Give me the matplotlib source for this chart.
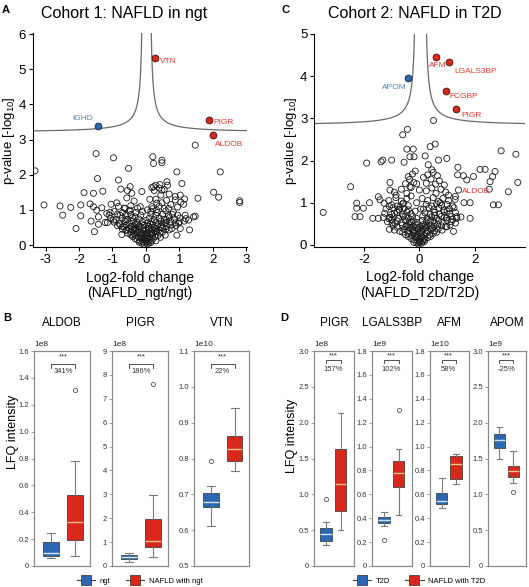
import numpy as np
import matplotlib.pyplot as plt
from matplotlib.lines import Line2D

plt.rcParams['font.family'] = ['Liberation Sans', 'DejaVu Sans']
plt.rcParams['mathtext.default'] = 'regular'

W, H = 529, 587
BLUE, RED = '#2a68b2', '#d8281c'
LBL_RED, LBL_BLUE = '#e23a30', '#4f82c4'

# ---------------- data: volcano cohort 1 (log2 fold change, -log10 p) ----------------
pts_a_outer = [
    (-3.32, 2.11), (-3.05, 1.14), (-2.57, 1.11), (-2.49, 0.85), (-2.25, 1.07), (-2.09, 0.47),
    (-1.95, 1.14), (-1.95, 0.83), (-1.85, 1.49), (-1.67, 1.17), (-1.64, 0.68), (-1.57, 1.47),
    (-1.54, 0.38), (-1.49, 2.60), (-1.45, 1.89), (-1.57, 1.09), (-1.47, 0.99), (-1.42, 0.80),
    (-1.29, 1.53), (-1.32, 1.06), (-1.17, 0.90), (-1.22, 0.64), (-1.04, 1.16), (-1.07, 0.93),
    (-0.97, 2.48), (-0.87, 1.20), (-0.82, 1.85), (-0.77, 0.85), (-0.75, 1.59), (-0.65, 0.52),
    (-0.52, 2.18), (-0.57, 1.34), (-0.47, 1.66), (-0.42, 1.47), (-0.12, 1.52), (-1.42, 0.59),
    (-1.15, 0.64), (-0.97, 0.71), (-0.62, 1.04), (-0.47, 0.99), (-0.77, 0.57), (-0.72, 0.30),
    (0.21, 2.51), (0.23, 2.32), (0.48, 2.41), (0.48, 2.34), (0.23, 1.66), (0.30, 1.70),
    (0.42, 1.72), (0.63, 1.80), (0.93, 2.08), (1.08, 1.75), (1.03, 1.42), (0.88, 1.28),
    (1.16, 1.31), (1.13, 1.16), (1.18, 0.85), (1.28, 0.71), (1.43, 0.80), (1.48, 0.82),
    (1.31, 0.43), (1.56, 1.33), (1.48, 2.84), (2.03, 1.50), (2.18, 1.36), (2.23, 2.08),
    (2.81, 1.26), (2.81, 1.21), (1.03, 0.47), (0.98, 0.62), (0.78, 0.47), (0.93, 0.28),
    (0.58, 0.28), (0.68, 1.04), (0.33, 1.19), (0.18, 1.09), (-0.17, 1.09), (0.48, 1.56),
    (0.18, 1.63),
]
pts_a_core = [
    (-0.12, 0.05), (-0.05, 0.02), (0.00, 0.08), (0.04, 0.03), (0.09, 0.06), (-0.08, 0.09),
    (0.02, 0.12), (0.06, 0.10), (-0.25, 0.15), (-0.18, 0.12), (-0.10, 0.18), (-0.03, 0.14),
    (0.03, 0.19), (0.10, 0.16), (0.16, 0.13), (0.22, 0.18), (-0.14, 0.20), (0.07, 0.20),
    (-0.40, 0.24), (-0.30, 0.27), (-0.22, 0.22), (-0.12, 0.28), (-0.05, 0.25), (0.05, 0.27),
    (0.12, 0.23), (0.20, 0.28), (0.28, 0.24), (0.36, 0.27), (-0.17, 0.30), (0.00, 0.30),
    (0.15, 0.30), (-0.55, 0.34), (-0.45, 0.38), (-0.35, 0.33), (-0.25, 0.37), (-0.15, 0.35),
    (-0.06, 0.39), (0.04, 0.34), (0.13, 0.38), (0.22, 0.35), (0.32, 0.38), (0.42, 0.34),
    (0.50, 0.37), (-0.30, 0.40), (0.27, 0.41), (-0.70, 0.45), (-0.60, 0.42), (-0.50, 0.47),
    (-0.40, 0.44), (-0.30, 0.48), (-0.20, 0.44), (-0.10, 0.47), (0.00, 0.43), (0.10, 0.48),
    (0.20, 0.45), (0.30, 0.47), (0.40, 0.44), (0.50, 0.48), (0.60, 0.45), (0.70, 0.43),
    (-0.85, 0.55), (-0.70, 0.52), (-0.58, 0.57), (-0.45, 0.53), (-0.33, 0.58), (-0.20, 0.54),
    (-0.05, 0.57), (0.08, 0.53), (0.20, 0.58), (0.35, 0.54), (0.48, 0.57), (0.62, 0.53),
    (0.75, 0.57), (0.90, 0.55), (-0.95, 0.65), (-0.80, 0.62), (-0.62, 0.67), (-0.50, 0.63),
    (-0.38, 0.68), (-0.25, 0.64), (-0.10, 0.66), (0.05, 0.63), (0.18, 0.67), (0.30, 0.64),
    (0.45, 0.68), (0.60, 0.64), (0.75, 0.67), (0.88, 0.63), (1.00, 0.66), (1.15, 0.68),
    (-1.05, 0.75), (-0.90, 0.72), (-0.70, 0.77), (-0.55, 0.73), (-0.40, 0.78), (-0.20, 0.74),
    (0.10, 0.76), (0.25, 0.72), (0.40, 0.77), (0.55, 0.73), (0.70, 0.78), (0.85, 0.74),
    (1.02, 0.77), (1.20, 0.75), (-1.10, 0.85), (-0.85, 0.88), (-0.60, 0.84), (-0.45, 0.87),
    (0.30, 0.85), (0.50, 0.88), (0.68, 0.84), (0.80, 0.87), (0.95, 0.85), (-0.95, 0.95),
    (-0.70, 0.92), (-0.50, 0.97), (-0.30, 0.93), (0.15, 0.96), (0.35, 0.92), (0.60, 0.97),
    (0.82, 0.94), (-0.65, 1.05), (-0.45, 1.12), (0.20, 1.03), (0.40, 1.10), (0.55, 1.04),
    (0.75, 1.15), (0.95, 1.08), (-0.82, 1.10), (-0.35, 1.25), (0.30, 1.30), (0.45, 1.42),
    (0.62, 1.27), (0.88, 1.38), (1.05, 1.22), (0.70, 1.45), (0.25, 1.55), (0.40, 1.62),
    (0.55, 1.58), (0.65, 1.70), (-0.55, 1.55), (-0.32, 0.80), (-0.37, 0.28), (-0.22, 0.52),
    (-0.57, 0.43), (0.28, 0.38), (-0.20, 0.08), (0.15, 0.07), (-0.32, 0.18), (0.30, 0.12),
    (-0.45, 0.29), (0.44, 0.22), (-0.08, 0.33), (0.08, 0.42), (-0.15, 0.52), (0.13, 0.60),
    (-0.28, 0.60), (0.25, 0.50), (-0.42, 0.52), (0.38, 0.60), (0.55, 0.62), (-0.60, 0.72),
    (0.00, 0.70), (-0.02, 0.20), (0.18, 0.33), (-0.35, 0.47), (0.45, 0.52), (0.62, 0.72),
    (-0.15, 0.85), (0.15, 0.88), (0.05, 1.00), (-0.10, 0.95), (0.32, 1.00), (0.48, 1.20),
    (-0.25, 1.05), (0.12, 1.30),
]
hits_a = ['VTN', 'IGHD', 'PIGR', 'ALDOB']
hits_a_fc = [0.28, -1.44, 1.88, 2.01]
hits_a_p = [5.33, 3.38, 3.55, 3.13]
hits_a_up = [True, False, True, True]

# ---------------- data: volcano cohort 2 ----------------
pts_c_outer = [
    (-0.43, 2.74), (-0.60, 2.61), (-0.45, 2.27), (-0.22, 2.27), (-0.34, 2.09), (-0.19, 2.09),
    (-0.55, 1.96), (-1.32, 2.01), (-1.00, 2.01), (-1.38, 1.97), (-1.90, 1.94), (-2.48, 1.38),
    (-3.47, 0.77), (-2.26, 0.99), (-2.26, 0.87), (-2.02, 0.87), (-2.32, 0.67), (-2.14, 0.67),
    (-1.80, 1.00), (-1.68, 0.63), (-1.48, 1.14), (-1.42, 1.07), (-1.06, 1.48), (-1.06, 1.30),
    (-0.84, 1.18), (-1.27, 0.99), (-1.08, 0.91), (-1.48, 0.63), (-1.06, 0.65), (-0.88, 0.51),
    (-1.08, 0.37), (-0.40, 1.62), (-0.34, 1.38), (-0.72, 0.83), (-0.58, 0.99),
    (0.51, 2.95), (0.57, 2.39), (0.39, 2.33), (0.21, 2.11), (0.99, 2.05), (0.69, 2.01),
    (0.32, 1.90), (0.45, 1.78), (1.39, 1.84), (1.59, 1.64), (1.71, 1.54), (1.95, 1.62),
    (2.19, 1.79), (2.37, 1.79), (2.55, 1.50), (2.64, 1.62), (2.73, 1.74), (2.95, 2.23),
    (3.48, 2.15), (3.55, 1.48), (3.21, 1.26), (2.67, 0.95), (2.85, 0.95), (2.52, 1.32),
    (1.61, 1.00), (1.83, 1.00), (1.29, 1.08), (1.05, 1.18), (1.41, 1.30), (1.83, 0.63),
    (1.35, 0.67), (1.23, 0.32), (0.99, 0.43), (1.38, 1.66),
]
pts_c_core = [
    (-0.10, 0.05), (-0.03, 0.02), (0.03, 0.08), (0.08, 0.04), (0.12, 0.09), (-0.06, 0.10),
    (0.00, 0.06), (-0.30, 0.15), (-0.20, 0.12), (-0.10, 0.18), (0.00, 0.14), (0.10, 0.19),
    (0.20, 0.13), (0.30, 0.17), (-0.15, 0.20), (0.05, 0.20), (0.16, 0.16), (-0.50, 0.24),
    (-0.38, 0.27), (-0.26, 0.22), (-0.15, 0.28), (-0.05, 0.25), (0.05, 0.27), (0.15, 0.23),
    (0.25, 0.28), (0.37, 0.24), (0.50, 0.27), (-0.20, 0.30), (0.10, 0.30), (-0.90, 0.35),
    (-0.70, 0.32), (-0.55, 0.37), (-0.42, 0.33), (-0.30, 0.38), (-0.18, 0.34), (-0.06, 0.37),
    (0.06, 0.33), (0.18, 0.38), (0.30, 0.34), (0.42, 0.37), (0.55, 0.33), (0.68, 0.38),
    (0.82, 0.35), (-0.35, 0.40), (0.24, 0.41), (-0.95, 0.45), (-0.80, 0.42), (-0.62, 0.47),
    (-0.48, 0.44), (-0.35, 0.48), (-0.22, 0.44), (-0.10, 0.47), (0.02, 0.43), (0.14, 0.48),
    (0.27, 0.45), (0.40, 0.47), (0.53, 0.44), (0.66, 0.48), (0.80, 0.45), (0.95, 0.43),
    (1.10, 0.47), (-1.15, 0.55), (-0.98, 0.52), (-0.80, 0.57), (-0.65, 0.53), (-0.50, 0.58),
    (-0.36, 0.54), (-0.22, 0.57), (-0.08, 0.53), (0.10, 0.58), (0.25, 0.54), (0.40, 0.57),
    (0.55, 0.53), (0.70, 0.57), (0.85, 0.54), (1.00, 0.58), (1.15, 0.55), (1.30, 0.52),
    (-1.30, 0.65), (-1.10, 0.62), (-0.92, 0.67), (-0.75, 0.63), (-0.58, 0.68), (-0.40, 0.64),
    (-0.25, 0.67), (-0.10, 0.63), (0.12, 0.68), (0.28, 0.64), (0.45, 0.67), (0.62, 0.63),
    (0.80, 0.68), (0.98, 0.64), (1.15, 0.67), (1.35, 0.63), (1.50, 0.66), (-1.25, 0.75),
    (-1.00, 0.72), (-0.80, 0.77), (-0.62, 0.73), (-0.45, 0.78), (-0.30, 0.74), (0.20, 0.76),
    (0.38, 0.72), (0.55, 0.77), (0.72, 0.73), (0.90, 0.78), (1.10, 0.74), (1.30, 0.77),
    (-1.20, 0.85), (-0.95, 0.88), (-0.75, 0.84), (-0.55, 0.87), (-0.40, 0.83), (0.15, 0.85),
    (0.35, 0.88), (0.52, 0.84), (0.70, 0.87), (0.88, 0.83), (1.08, 0.86), (1.25, 0.88),
    (-1.00, 0.95), (-0.80, 0.92), (-0.60, 0.97), (-0.40, 0.93), (0.25, 0.96), (0.45, 0.92),
    (0.62, 0.97), (0.80, 0.94), (1.00, 0.96), (1.20, 0.92), (-1.10, 1.05), (-0.85, 1.12),
    (-0.65, 1.04), (-0.45, 1.10), (-0.30, 1.16), (0.30, 1.05), (0.50, 1.12), (0.68, 1.03),
    (0.85, 1.10), (1.05, 1.05), (1.30, 1.15), (-0.90, 1.25), (-0.65, 1.32), (-0.45, 1.22),
    (-0.30, 1.36), (0.25, 1.28), (0.45, 1.35), (0.60, 1.22), (0.78, 1.32), (0.95, 1.25),
    (-0.50, 1.45), (-0.35, 1.55), (-0.20, 1.48), (0.25, 1.46), (0.42, 1.56), (0.58, 1.44),
    (0.72, 1.52), (0.90, 1.42), (-0.25, 1.68), (-0.15, 1.75), (0.30, 1.66), (0.50, 1.72),
    (0.65, 1.64), (-0.20, 0.06), (0.18, 0.08), (-0.40, 0.20), (0.40, 0.20), (-0.60, 0.30),
    (0.62, 0.30), (-0.08, 0.42), (0.10, 0.38), (-0.30, 0.55), (0.32, 0.60), (-0.50, 0.68),
    (0.55, 0.70), (-0.15, 0.80), (0.05, 0.85), (-0.10, 1.00), (0.10, 1.10), (-0.70, 0.90),
    (0.75, 1.00), (1.00, 0.80), (-0.90, 0.75), (0.20, 0.45), (-0.25, 0.35), (0.45, 0.40),
    (-0.45, 0.47), (0.90, 0.65), (1.20, 0.60), (-1.00, 0.60), (0.00, 1.30), (0.15, 1.60),
    (-0.10, 1.45),
]
hits_c = ['APOM', 'AFM', 'LGALS3BP', 'FCGBP', 'PIGR']
hits_c_fc = [-0.40, 0.59, 1.08, 0.96, 1.31]
hits_c_p = [3.95, 4.46, 4.34, 3.65, 3.21]
hits_c_up = [False, True, True, True, True]

# ---------------- data: box plots (in units of the axis multiplier) ----------------
# each entry: (whislo, q1, med, q3, whishi, fliers)
box_b_names = ['ALDOB', 'PIGR', 'VTN']
box_b_scale = ['1e8', '1e8', '1e10']
box_b_ctrl = [(0.062, 0.075, 0.10, 0.175, 0.245, []),
              (0.18, 0.30, 0.38, 0.46, 0.53, []),
              (0.612, 0.666, 0.679, 0.704, 0.723, [0.792])]
box_b_case = [(0.075, 0.195, 0.325, 0.525, 0.78, [1.31]),
              (0.39, 0.78, 1.04, 1.98, 2.96, [7.6]),
              (0.766, 0.792, 0.826, 0.863, 0.941, [])]
box_b_pct = ['341%', '186%', '22%']
box_b_ylim = [(0, 1.6), (0, 9), (0.5, 1.1)]
box_b_step = [0.2, 1, 0.1]

box_d_names = ['PIGR', 'LGALS3BP', 'AFM', 'APOM']
box_d_scale = ['1e8', '1e9', '1e10', '1e9']
box_d_ctrl = [(0.29, 0.345, 0.44, 0.525, 0.62, [0.94]),
              (0.335, 0.36, 0.385, 0.41, 0.455, [0.22]),
              (0.486, 0.52, 0.541, 0.608, 0.737, []),
              (1.49, 1.646, 1.76, 1.84, 1.94, [])]
box_d_case = [(0.50, 0.77, 1.15, 1.63, 2.13, []),
              (0.43, 0.665, 0.78, 0.875, 0.98, [1.31]),
              (0.69, 0.725, 0.857, 0.921, 0.94, []),
              (1.16, 1.247, 1.32, 1.39, 1.61, [1.03])]
box_d_pct = ['157%', '102%', '58%', '-25%']
box_d_ylim = [(0, 3.0), (0, 1.8), (0, 1.8), (0, 3.0)]
box_d_step = [0.5, 0.2, 0.2, 0.5]

fig = plt.figure(figsize=(W / 100, H / 100), dpi=100)


def add_ax(l, t, r, b):
    return fig.add_axes([l / W, 1 - b / H, (r - l) / W, (b - t) / H])


def put(x, y, s, **kw):
    fig.text(x / W, 1 - y / H, s, **kw)


def volcano(ax, pts, names, fc, p, up, curve, xlim, ylim, xticks, yticks, xlab, offsets, ylab_x):
    x, y = np.array(pts).T
    ax.scatter(x, y, s=19, facecolor='none', edgecolor='#1a1a1a', linewidth=0.6, zorder=2)
    center, x0, c, y0 = curve
    for side, edge in ((-1, xlim[0]), (1, xlim[1])):
        d = np.geomspace(c / (ylim[1] - y0 + 1), abs(edge - center) - x0, 400)
        ax.plot(center + side * (x0 + d), y0 + c / d, color='#6a6a6a', lw=0.9, zorder=1)
    for n, xi, yi, u in zip(names, fc, p, up):
        col = RED if u else BLUE
        ax.scatter([xi], [yi], s=24, color=col, edgecolor='#3a0d0a' if u else '#10264a',
                   linewidth=0.6, zorder=3)
        dx, dy, ha = offsets[n]
        ax.text(xi + dx, yi + dy, n, color=LBL_RED if u else LBL_BLUE, fontsize=6,
                ha=ha, va='center')
    ax.set_xlim(*xlim)
    ax.set_ylim(*ylim)
    ax.set_xticks(xticks)
    ax.set_yticks(yticks)
    ax.set_xticklabels([str(t) for t in xticks])
    for s in ('top', 'right'):
        ax.spines[s].set_visible(False)
    for s in ('left', 'bottom'):
        ax.spines[s].set_linewidth(0.8)
    ax.tick_params(labelsize=9.5, length=3, width=0.8, pad=2)
    ax.set_ylabel('p-value [-log$_{10}$]', fontsize=9.5)
    ax.yaxis.set_label_coords(ylab_x, 0.5)
    ax.set_xlabel(xlab, fontsize=10, labelpad=3, linespacing=1.15)


axA = add_ax(33, 33.3, 247, 247.5)
volcano(axA, pts_a_outer + pts_a_core, hits_a, hits_a_fc, hits_a_p, hits_a_up,
        (0.02, 0.09, 0.15, 3.2), (-3.38, 3.03), (-0.07, 6.02),
        [-3, -2, -1, 0, 1, 2, 3], range(0, 7),
        'Log2-fold change\n(NAFLD_ngt/ngt)',
        {'VTN': (0.15, -0.12, 'left'), 'IGHD': (-0.15, 0.22, 'right'),
         'PIGR': (0.15, -0.07, 'left'), 'ALDOB': (0.07, -0.26, 'left')}, -0.075)

axC = add_ax(314.3, 34, 525, 247)
volcano(axC, pts_c_outer + pts_c_core, hits_c, hits_c_fc, hits_c_p, hits_c_up,
        (0.04, 0.14, 0.17, 2.83), (-3.79, 3.81), (-0.05, 5.0),
        [-2, 0, 2], range(0, 6),
        'Log2-fold change\n(NAFLD_T2D/T2D)',
        {'APOM': (-0.06, -0.21, 'right'), 'AFM': (0.06, -0.21, 'center'),
         'LGALS3BP': (0.2, -0.22, 'left'), 'FCGBP': (0.14, -0.13, 'left'),
         'PIGR': (0.19, -0.15, 'left')}, -0.073)
axC.text(1.55, 1.26, 'ALDOB', color=LBL_RED, fontsize=6, ha='left', va='center')


def boxpanel(ax, name, scale, ctrl, case, pct, ylim, step, xlim, width, brk):
    stats = []
    for lab, (lo, q1, med, q3, hi, fl) in (('c', ctrl), ('n', case)):
        stats.append(dict(label=lab, whislo=lo, q1=q1, med=med, q3=q3, whishi=hi, fliers=fl))
    bp = ax.bxp(stats, positions=[1, 2], widths=width, patch_artist=True, showfliers=True,
                boxprops=dict(edgecolor='#2a2a2a', linewidth=0.5),
                whiskerprops=dict(color='#7a7a7a', linewidth=0.8),
                capprops=dict(color='#7a7a7a', linewidth=0.8),
                medianprops=dict(linewidth=1.0),
                flierprops=dict(marker='o', markersize=3, markerfacecolor='white',
                                markeredgecolor='#555555', markeredgewidth=0.6))
    for box, med, col, mcol in zip(bp['boxes'], bp['medians'], (BLUE, RED),
                                   ('#d6e2f2', '#f9c189')):
        box.set_facecolor(col)
        med.set_color(mcol)
    for cap in bp['caps']:
        mid = np.mean(cap.get_xdata())
        cap.set_xdata([mid - width * 0.25, mid + width * 0.25])
    ax.set_xlim(*xlim)
    ax.set_ylim(*ylim)
    ticks = np.arange(ylim[0], ylim[1] + step / 2, step)
    ax.set_yticks(ticks)
    if step >= 1:
        ax.set_yticklabels(['%d' % t for t in ticks])
    else:
        ax.set_yticklabels(['0' if abs(t) < 1e-9 else '%.1f' % t for t in ticks])
    ax.set_xticks([])
    for s in ax.spines.values():
        s.set_color('#8a8a8a')
        s.set_linewidth(0.9)
    ax.tick_params(axis='y', labelsize=5.5, length=2, width=0.5, color='#777777',
                   labelcolor='#333333', pad=1.5)
    ax.text(0, 1.012, scale, transform=ax.transAxes, fontsize=6, ha='left', va='bottom',
            color='#222222')
    ax.text(0.5, 1.13, name, transform=ax.transAxes, fontsize=8.5, ha='center', va='center')
    span = ylim[1] - ylim[0]
    yb, ytick, ystar, ypct = (ylim[0] + f * span for f in brk)
    ax.plot([1, 1, 2, 2], [ytick, yb, yb, ytick], color='#333333', lw=0.6)
    ax.text(1.5, ystar, '***', ha='center', va='center', fontsize=5.5, color='#333333')
    ax.text(1.5, ypct, pct, ha='center', va='center', fontsize=5.5, color='#333333')


b_cols = [(34, 90), (112, 168), (194, 249)]
for (l, r), n, sc, c0, c1, pc, yl, st in zip(b_cols, box_b_names, box_b_scale, box_b_ctrl,
                                              box_b_case, box_b_pct, box_b_ylim, box_b_step):
    ax = add_ax(l, 351, r, 566)
    boxpanel(ax, n, sc, c0, c1, pc, yl, st, (0.3, 2.6), 0.65, (0.94, 0.923, 0.972, 0.905))

d_cols = [(314, 354), (372, 412), (430, 469), (488, 526)]
for (l, r), n, sc, c0, c1, pc, yl, st in zip(d_cols, box_d_names, box_d_scale, box_d_ctrl,
                                              box_d_case, box_d_pct, box_d_ylim, box_d_step):
    ax = add_ax(l, 351, r, 566)
    boxpanel(ax, n, sc, c0, c1, pc, yl, st, (0.17, 2.93), 0.8, (0.958, 0.943, 0.978, 0.915))

# titles, panel letters, shared labels
put(124.5, 13.5, 'Cohort 1: NAFLD in ngt', fontsize=11.5, ha='center', va='center')
put(415, 13.5, 'Cohort 2: NAFLD in T2D', fontsize=11.5, ha='center', va='center')
for x, y, s in ((2, 10, 'A'), (282, 10, 'C'), (3, 318, 'B'), (280, 318, 'D')):
    put(x, y, s, fontsize=8, fontweight='bold', ha='left', va='center')
put(13, 432, 'LFQ intensity', fontsize=9, rotation=90, ha='center', va='center')
put(292, 436, 'LFQ intensity', fontsize=9, rotation=90, ha='center', va='center')


def legend_handles():
    return [Line2D([0], [0], color='#444444', lw=0.8, marker='s', markersize=7,
                   markerfacecolor=c, markeredgecolor='#2a2a2a', markeredgewidth=0.5)
            for c in (BLUE, RED)]


fig.legend(legend_handles(), ['ngt', 'NAFLD with ngt'], loc='center',
           bbox_to_anchor=(140 / W, 1 - 581 / H), ncol=2, frameon=False, fontsize=5.5,
           handlelength=2.4, columnspacing=2.0, handletextpad=0.6)
fig.legend(legend_handles(), ['T2D', 'NAFLD with T2D'], loc='center',
           bbox_to_anchor=(419 / W, 1 - 581 / H), ncol=2, frameon=False, fontsize=5.5,
           handlelength=2.4, columnspacing=2.0, handletextpad=0.6)

fig.savefig('out.png', dpi=100)
